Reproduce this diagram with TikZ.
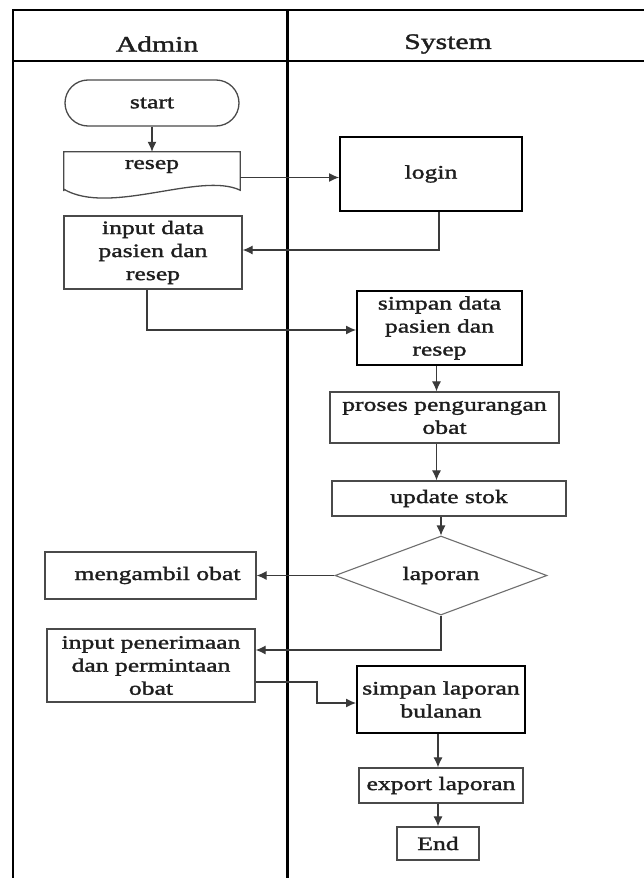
\documentclass[tikz,border=0pt]{standalone}
\usepackage{fontspec}
\setmainfont{Liberation Serif}[FakeStretch=1.35,FakeBold=1.6]
\usetikzlibrary{arrows.meta,shapes.geometric,shapes.misc}
\definecolor{ink}{HTML}{1E1E1E}
\definecolor{edge}{HTML}{4A4A4A}
\definecolor{wire}{HTML}{3A3A3A}
\tikzset{
  boxtext/.style={font=\fontsize{19}{23}\selectfont, text=ink, align=center, inner sep=0pt},
  thinbox/.style={boxtext, draw=edge, line width=1.3pt, rectangle},
  boldbox/.style={boxtext, draw=black, line width=2pt, rectangle},
  lanehead/.style={font=\fontsize{22}{26}\selectfont, text=ink, inner sep=0pt},
  wirearrow/.style={draw=wire, line width=1.1pt, -{Latex[length=10pt,width=9pt]}},
  frameline/.style={draw=black, line cap=rect}
}
\begin{document}
\begin{tikzpicture}[x=1pt,y=-1pt]
\useasboundingbox (0,0) rectangle (643,878);
\fill[white] (0,0) rectangle (643,878);

% swimlane frame
\draw[frameline, line width=1.8pt] (13,10) -- (643,10);
\draw[frameline, line width=2pt] (13,61) -- (643,61);
\draw[frameline, line width=1.5pt] (13,10) -- (13,878);
\draw[frameline, line width=3pt] (287,10) -- (287,876);
\node[lanehead] (adminhead) at (157,44) {Admin};
\node[lanehead] (systemhead) at (448,44) {System};

% Admin lane
\node[thinbox, shape=rounded rectangle, minimum width=174pt, minimum height=46pt] (start) at (152,103) {start};
\node[boxtext, minimum width=176pt, minimum height=39pt] (resep) at (152,171.5) {\raisebox{5pt}[\height][\depth]{resep}};
\draw[edge, line width=1.3pt] (resep.south west) -- (resep.north west) -- (resep.north east) -- ([yshift=1pt]resep.south east)
  .. controls ([xshift=-40pt,yshift=20pt]resep.south east) and ([xshift=46pt,yshift=-25pt]resep.south west) .. ([yshift=2pt]resep.south west) -- cycle;
\node[thinbox, minimum width=178pt, minimum height=73pt] (input) at (153,252.5) {input data\\pasien dan\\resep};
\node[thinbox, minimum width=211pt, minimum height=47pt] (ambil) at (150.5,575.5) {\hspace*{14pt}mengambil obat};
\node[thinbox, minimum width=208pt, minimum height=73pt] (terima) at (151,665.5) {input penerimaan\\dan permintaan\\obat};

% System lane
\node[boldbox, minimum width=182pt, minimum height=74pt] (login) at (431,174) {login};
\node[boldbox, minimum width=165pt, minimum height=74pt] (simpan) at (439.5,328) {simpan data\\pasien dan\\resep};
\node[thinbox, minimum width=229pt, minimum height=51pt] (proses) at (444.5,417.5) {proses pengurangan\\obat};
\node[thinbox, minimum width=234pt, minimum height=35pt] (update) at (449,498.5) {update stok};
\node[boxtext, shape=diamond, draw=edge!80, line width=1.1pt, aspect=2.68, minimum width=212pt, minimum height=79pt] (laporan) at (441,575.5) {laporan};
\node[boldbox, minimum width=168pt, minimum height=67pt] (simpanlap) at (441,699.5) {simpan laporan\\bulanan};
\node[thinbox, minimum width=164pt, minimum height=35pt] (export) at (441,785.5) {export laporan};
\node[thinbox, minimum width=82pt, minimum height=33pt] (end) at (438,843.5) {End};

% connectors
\draw[wirearrow] (start.south) -- (resep.north);
\draw[wirearrow] ([yshift=-6pt]resep.east) -- ([yshift=-6pt]resep.east -| login.west);
\draw[wirearrow] ([xshift=8pt]login.south) |- ([yshift=2.5pt]input.east);
\draw[wirearrow] ([xshift=-6pt]input.south) |- ([yshift=-2pt]simpan.west);
\draw[wirearrow] ([xshift=-3pt]simpan.south) -- ([xshift=-3pt]simpan.south |- proses.north);
\draw[wirearrow] ([xshift=-3pt]simpan.south |- proses.south) -- ([xshift=-3pt]simpan.south |- update.north);
\draw[wirearrow] (update.south -| laporan.north) -- (laporan.north);
\draw[wirearrow] (laporan.west) -- (laporan.west -| ambil.east);
\draw[wirearrow] (laporan.south) |- ([yshift=15.5pt]terima.east);
\coordinate (jog) at (317,703);
\draw[wirearrow] ([yshift=-16.5pt]terima.east) -| (jog) -- (jog -| simpanlap.west);
\draw[wirearrow] ([xshift=-3pt]simpanlap.south) -- ([xshift=-3pt]simpanlap.south |- export.north);
\draw[wirearrow] (end.north |- export.south) -- (end.north);
\end{tikzpicture}
\end{document}
